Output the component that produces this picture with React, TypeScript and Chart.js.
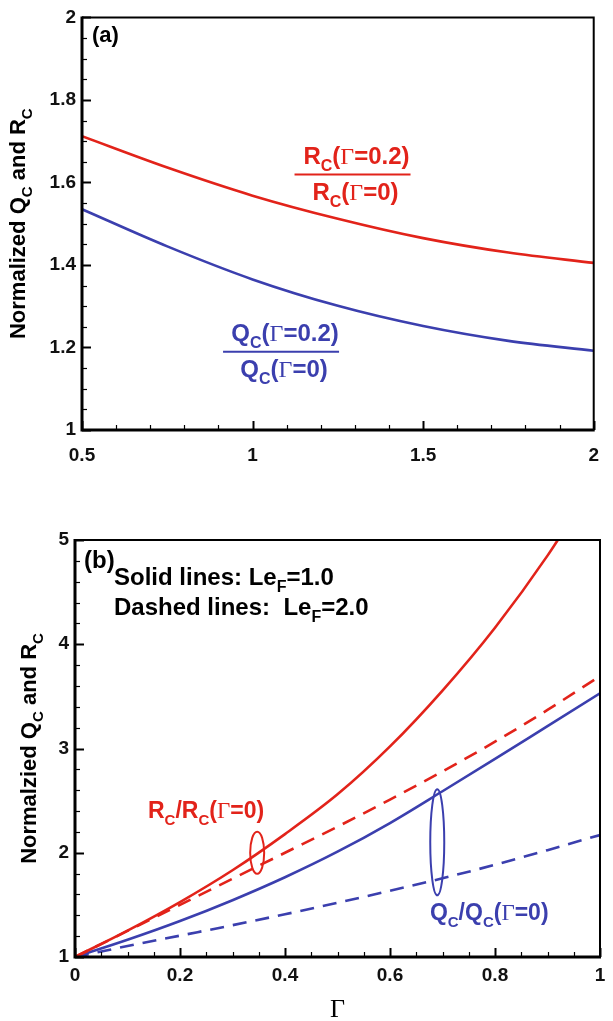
import React, { useEffect, useRef } from 'react';
import { Chart, registerables } from 'chart.js';
Chart.register(...registerables);

// ---------- data ----------
const LE_F = [0.5, 0.75, 1.0, 1.25, 1.5, 1.75, 2.0];
const R_RATIO_A = [1.712, 1.636, 1.568, 1.512, 1.465, 1.43, 1.405];
const Q_RATIO_A = [1.535, 1.445, 1.365, 1.301, 1.252, 1.216, 1.192];

const GAMMA = [0, 0.1, 0.2, 0.3, 0.4, 0.5, 0.6, 0.7, 0.8, 0.9, 1.0];
const R_LE1 = [1, 1.253, 1.527, 1.832, 2.179, 2.56, 3.02, 3.556, 4.159, 4.85, 5.64];
const R_LE2 = [1, 1.25, 1.5, 1.75, 2.0, 2.25, 2.51, 2.78, 3.065, 3.37, 3.695];
const Q_LE1 = [1, 1.165, 1.345, 1.545, 1.765, 2.01, 2.285, 2.59, 2.9, 3.215, 3.53];
const Q_LE2 = [1, 1.105, 1.205, 1.305, 1.41, 1.52, 1.635, 1.755, 1.885, 2.025, 2.17];

const RED = '#e2231a';
const BLUE = '#3b3fae';
const SANS = '"Liberation Sans", Arial, Helvetica, sans-serif';
const SERIF = '"Liberation Serif", "Times New Roman", serif';

type Kind = 'n' | 's' | 'g';
type Part = [string, Kind];

function fontFor(kind: Kind, size: number) {
  if (kind === 's') return `bold ${Math.round(size * 0.66)}px ${SANS}`;
  if (kind === 'g') return `${Math.round(size * 1.02)}px ${SERIF}`;
  return `bold ${size}px ${SANS}`;
}

function richWidth(ctx: CanvasRenderingContext2D, parts: Part[], size: number) {
  let w = 0;
  for (const [t, k] of parts) {
    ctx.font = fontFor(k, size);
    w += ctx.measureText(t).width;
  }
  return w;
}

function drawRich(
  ctx: CanvasRenderingContext2D,
  parts: Part[],
  x: number,
  y: number,
  size: number,
  color: string,
  align: 'left' | 'center'
) {
  const w = richWidth(ctx, parts, size);
  let cx = align === 'center' ? x - w / 2 : x;
  ctx.fillStyle = color;
  ctx.textBaseline = 'alphabetic';
  ctx.textAlign = 'left';
  for (const [t, k] of parts) {
    ctx.font = fontFor(k, size);
    const dy = k === 's' ? size * 0.3 : 0;
    ctx.fillText(t, cx, y + dy);
    cx += ctx.measureText(t).width;
  }
}

type FrameSpec = { xMin: number; xMax: number; xMinor: number; xRatio: number; yMin: number; yMax: number; yMinor: number; yRatio: number };

function drawFrame(chart: any, s: FrameSpec) {
  const { ctx, chartArea: a } = chart;
  const xs = chart.scales.x;
  const ys = chart.scales.y;
  ctx.save();
  ctx.strokeStyle = '#000';
  ctx.lineCap = 'butt';
  const nx = Math.round((s.xMax - s.xMin) / s.xMinor);
  for (let i = 0; i <= nx; i++) {
    const v = s.xMin + i * s.xMinor;
    const major = i % s.xRatio === 0;
    const px = Math.round(xs.getPixelForValue(v)) + 0.5;
    ctx.lineWidth = major ? 2 : 1.2;
    ctx.beginPath();
    ctx.moveTo(px, a.bottom);
    ctx.lineTo(px, a.bottom - (major ? 9 : 5));
    ctx.stroke();
  }
  const ny = Math.round((s.yMax - s.yMin) / s.yMinor);
  for (let i = 0; i <= ny; i++) {
    const v = s.yMin + i * s.yMinor;
    const major = i % s.yRatio === 0;
    const py = Math.round(ys.getPixelForValue(v)) + 0.5;
    ctx.lineWidth = major ? 2 : 1.2;
    ctx.beginPath();
    ctx.moveTo(a.left, py);
    ctx.lineTo(a.left + (major ? 9 : 5), py);
    ctx.stroke();
  }
  ctx.lineWidth = 2;
  ctx.beginPath();
  ctx.moveTo(a.left, a.top);
  ctx.lineTo(a.right, a.top);
  ctx.lineTo(a.right, a.bottom);
  ctx.stroke();
  ctx.lineWidth = 3;
  ctx.beginPath();
  ctx.moveTo(a.left, a.top - 1);
  ctx.lineTo(a.left, a.bottom);
  ctx.lineTo(a.right + 1, a.bottom);
  ctx.stroke();
  ctx.restore();
}

function drawYTitle(ctx: CanvasRenderingContext2D, parts: Part[], x: number, y: number, size: number) {
  ctx.save();
  ctx.translate(x, y);
  ctx.rotate(-Math.PI / 2);
  drawRich(ctx, parts, 0, 0, size, '#000', 'center');
  ctx.restore();
}

const tickFont = { family: SANS, size: 19, weight: 'bold' as const };
const fmt = (v: any) => String(Number(Number(v).toFixed(2)));

function makeConfigA(): any {
  const R_FRAC_NUM: Part[] = [['R', 'n'], ['C', 's'], ['(', 'n'], ['Γ', 'g'], ['=0.2)', 'n']];
  const R_FRAC_DEN: Part[] = [['R', 'n'], ['C', 's'], ['(', 'n'], ['Γ', 'g'], ['=0)', 'n']];
  const Q_FRAC_NUM: Part[] = [['Q', 'n'], ['C', 's'], ['(', 'n'], ['Γ', 'g'], ['=0.2)', 'n']];
  const Q_FRAC_DEN: Part[] = [['Q', 'n'], ['C', 's'], ['(', 'n'], ['Γ', 'g'], ['=0)', 'n']];
  const decor = {
    id: 'decorA',
    afterDatasetsDraw(chart: any) {
      const { ctx, chartArea: a } = chart;
      const xs = chart.scales.x;
      const ys = chart.scales.y;
      drawFrame(chart, { xMin: 0.5, xMax: 2, xMinor: 0.1, xRatio: 5, yMin: 1, yMax: 2, yMinor: 0.05, yRatio: 4 });
      ctx.save();
      drawRich(ctx, [['(a)', 'n']], a.left + 10, a.top + 25, 22, '#000', 'left');
      const fracs: [number, number, Part[], Part[], string][] = [
        [1.293, 1.619, R_FRAC_NUM, R_FRAC_DEN, RED],
        [1.0835, 1.1894, Q_FRAC_NUM, Q_FRAC_DEN, BLUE],
      ];
      for (const [fx, fy, num, den, col] of fracs) {
        const px = xs.getPixelForValue(fx);
        const py = ys.getPixelForValue(fy);
        ctx.strokeStyle = col;
        ctx.lineWidth = 2;
        ctx.beginPath();
        ctx.moveTo(px - 58, py);
        ctx.lineTo(px + 58, py);
        ctx.stroke();
        drawRich(ctx, num, px + 4, py - 11, 24, col, 'center');
        drawRich(ctx, den, px + 3, py + 25, 24, col, 'center');
      }
      drawYTitle(ctx, [['Normalized Q', 'n'], ['C', 's'], [' and R', 'n'], ['C', 's']], a.left - 57, (a.top + a.bottom) / 2, 22);
      drawRich(ctx, [['Le', 'n'], ['F', 's']], (a.left + a.right) / 2, a.bottom + 67, 22, '#000', 'center');
      ctx.restore();
    },
  };
  return {
    type: 'line',
    data: {
      datasets: [
        { data: LE_F.map((x, i) => ({ x, y: R_RATIO_A[i] })), borderColor: RED, borderWidth: 2.6, pointRadius: 0, cubicInterpolationMode: 'monotone' },
        { data: LE_F.map((x, i) => ({ x, y: Q_RATIO_A[i] })), borderColor: BLUE, borderWidth: 2.6, pointRadius: 0, cubicInterpolationMode: 'monotone' },
      ],
    },
    options: {
      animation: false,
      responsive: false,
      devicePixelRatio: 1,
      layout: { padding: { left: 0, top: 13, right: 4, bottom: 0 } },
      plugins: { legend: { display: false }, tooltip: { enabled: false } },
      scales: {
        x: {
          type: 'linear', min: 0.5, max: 2,
          grid: { display: false, drawTicks: false }, border: { display: false },
          ticks: { stepSize: 0.5, color: '#111', font: tickFont, padding: 14, maxRotation: 0, callback: fmt },
          afterFit: (s: any) => { s.height = 50; },
        },
        y: {
          type: 'linear', min: 1, max: 2,
          grid: { display: false, drawTicks: false }, border: { display: false },
          ticks: { stepSize: 0.2, color: '#111', font: tickFont, padding: 6, callback: fmt },
          afterFit: (s: any) => { s.width = 82; },
        },
      },
    },
    plugins: [decor],
  };
}

function makeConfigB(): any {
  const R_LABEL: Part[] = [['R', 'n'], ['C', 's'], ['/R', 'n'], ['C', 's'], ['(', 'n'], ['Γ', 'g'], ['=0)', 'n']];
  const Q_LABEL: Part[] = [['Q', 'n'], ['C', 's'], ['/Q', 'n'], ['C', 's'], ['(', 'n'], ['Γ', 'g'], ['=0)', 'n']];
  const decor = {
    id: 'decorB',
    afterDatasetsDraw(chart: any) {
      const { ctx, chartArea: a } = chart;
      const xs = chart.scales.x;
      const ys = chart.scales.y;
      drawFrame(chart, { xMin: 0, xMax: 1, xMinor: 0.05, xRatio: 4, yMin: 1, yMax: 5, yMinor: 0.2, yRatio: 5 });
      ctx.save();
      drawRich(ctx, [['(b)', 'n']], a.left + 9, a.top + 28, 24, '#000', 'left');
      drawRich(ctx, [['Solid lines: Le', 'n'], ['F', 's'], ['=1.0', 'n']], a.left + 39, a.top + 45, 24, '#000', 'left');
      drawRich(ctx, [['Dashed lines:  Le', 'n'], ['F', 's'], ['=2.0', 'n']], a.left + 39, a.top + 75, 24, '#000', 'left');
      drawRich(ctx, R_LABEL, xs.getPixelForValue(0.139), ys.getPixelForValue(2.333), 23, RED, 'left');
      drawRich(ctx, Q_LABEL, xs.getPixelForValue(0.676), ys.getPixelForValue(1.355), 23, BLUE, 'left');
      const ells: [number, number, number, number, string][] = [
        [0.347, 2.0, 7, 21, RED],
        [0.69, 2.1, 7, 53, BLUE],
      ];
      for (const [ex, ey, rx, ry, col] of ells) {
        ctx.strokeStyle = col;
        ctx.lineWidth = 2;
        ctx.beginPath();
        ctx.ellipse(xs.getPixelForValue(ex), ys.getPixelForValue(ey), rx, ry, 0, 0, Math.PI * 2);
        ctx.stroke();
      }
      drawYTitle(ctx, [['Normalzied Q', 'n'], ['C', 's'], [' and R', 'n'], ['C', 's']], a.left - 39, (a.top + a.bottom) / 2, 22);
      drawRich(ctx, [['Γ', 'g']], (a.left + a.right) / 2, a.bottom + 60, 25, '#000', 'center');
      ctx.restore();
    },
  };
  const line = (ys: number[], col: string, dashed: boolean) => ({
    data: GAMMA.map((x, i) => ({ x, y: ys[i] })),
    borderColor: col,
    borderWidth: 2.6,
    borderDash: dashed ? [14, 9] : [],
    pointRadius: 0,
    cubicInterpolationMode: 'monotone',
  });
  return {
    type: 'line',
    data: {
      datasets: [line(R_LE1, RED, false), line(R_LE2, RED, true), line(Q_LE1, BLUE, false), line(Q_LE2, BLUE, true)],
    },
    options: {
      animation: false,
      responsive: false,
      devicePixelRatio: 1,
      layout: { padding: { left: 0, top: 60, right: 13, bottom: 0 } },
      plugins: { legend: { display: false }, tooltip: { enabled: false } },
      scales: {
        x: {
          type: 'linear', min: 0, max: 1,
          grid: { display: false, drawTicks: false }, border: { display: false },
          ticks: { stepSize: 0.2, color: '#111', font: tickFont, padding: 7, maxRotation: 0, callback: fmt },
          afterFit: (s: any) => { s.height = 64; },
        },
        y: {
          type: 'linear', min: 1, max: 5,
          grid: { display: false, drawTicks: false }, border: { display: false },
          ticks: { stepSize: 1, color: '#111', font: tickFont, padding: 6, callback: fmt },
          afterFit: (s: any) => { s.width = 75; },
        },
      },
    },
    plugins: [decor],
  };
}

export default function App() {
  const refA = useRef<HTMLCanvasElement>(null);
  const refB = useRef<HTMLCanvasElement>(null);
  useEffect(() => {
    const ca = new Chart(refA.current as HTMLCanvasElement, makeConfigA());
    const cb = new Chart(refB.current as HTMLCanvasElement, makeConfigB());
    return () => {
      ca.destroy();
      cb.destroy();
    };
  }, []);
  return (
    <div style={{ position: 'absolute', left: 0, top: 0, width: 613, height: 1021, background: '#fff' }}>
      <canvas ref={refA} width={613} height={480} style={{ position: 'absolute', left: 0, top: 0 }} />
      <canvas ref={refB} width={613} height={541} style={{ position: 'absolute', left: 0, top: 480 }} />
    </div>
  );
}
